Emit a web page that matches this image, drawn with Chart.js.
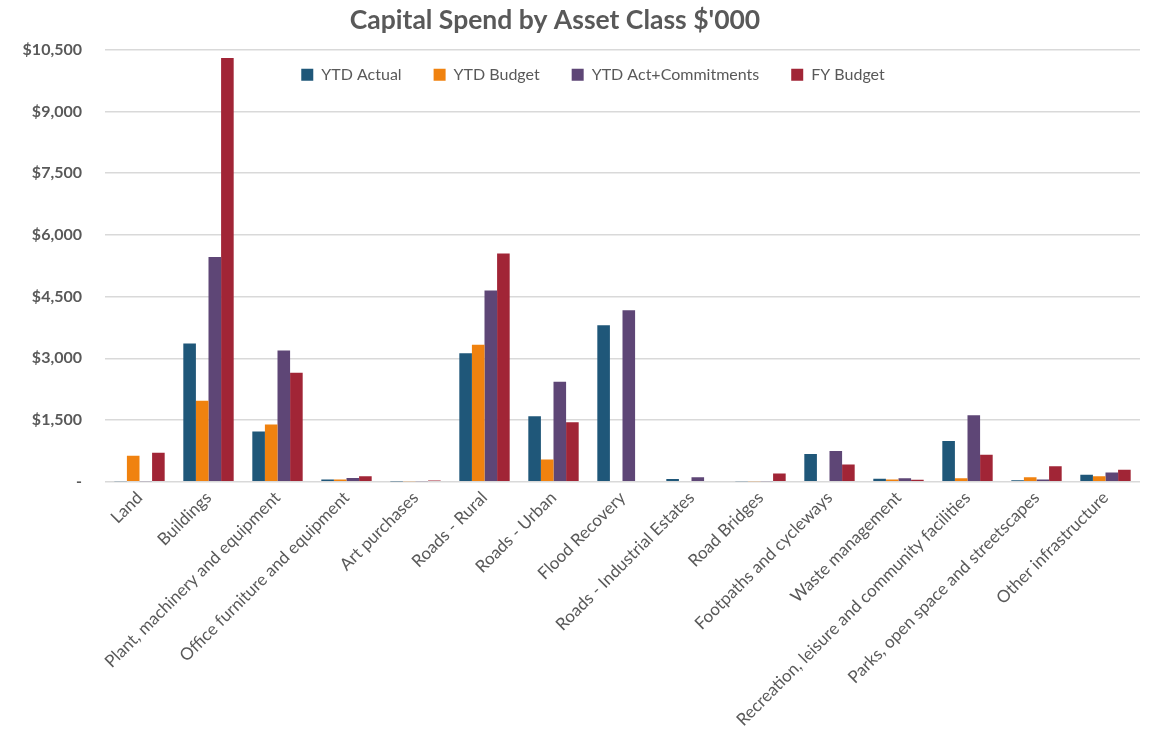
<!DOCTYPE html>
<html>
<head>
<meta charset="utf-8">
<script src="https://cdn.jsdelivr.net/npm/chart.js@4.4.1/dist/chart.umd.min.js"></script>
<style>
  html, body { margin: 0; padding: 0; background: #ffffff; }
  #wrap { width: 1153px; height: 738px; position: relative; }
</style>
</head>
<body>
<div id="wrap"><canvas id="c" width="1153" height="738"></canvas></div>
<script>
const categories = [
  "Land", "Buildings", "Plant, machinery and equipment", "Office furniture and equipment",
  "Art purchases", "Roads - Rural", "Roads - Urban", "Flood Recovery",
  "Roads - Industrial Estates", "Road Bridges", "Footpaths and cycleways",
  "Waste management", "Recreation, leisure and community facilities",
  "Parks, open space and streetscapes", "Other infrastructure"
];
const ytdActual      = [10, 3360, 1220, 55, 5, 3120, 1590, 3800, 65, 10, 670, 70, 990, 35, 170];
const ytdBudget      = [630, 1970, 1390, 50, 10, 3330, 540, 0, 0, 10, 15, 50, 80, 105, 130];
const ytdActCommit   = [10, 5460, 3190, 90, 10, 4650, 2430, 4170, 110, 10, 745, 80, 1615, 50, 220];
const fyBudget       = [700, 10300, 2650, 130, 30, 5550, 1445, 0, 0, 200, 420, 45, 657, 373, 292];
const yTicks = [0, 1500, 3000, 4500, 6000, 7500, 9000, 10500];

const seriesNames  = ["YTD Actual", "YTD Budget", "YTD Act+Commitments", "FY Budget"];
const seriesColors = ["#1f5779", "#f0820f", "#5e4676", "#a12536"];
const seriesData   = [ytdActual, ytdBudget, ytdActCommit, fyBudget];

const fontFamily = "Lato, 'Open Sans', sans-serif";

// Horizontal/vertical nudges for the title and the in-plot legend.
const titleShiftX = -26;
const legendShiftX = 12;
const legendShiftY = -15;

// Draws a layout box offset from where the layout put it.
function shiftDraw(box, dx, dy, keepHeight) {
  const draw = box.draw;
  box.draw = function (area) {
    const saved = [this.left, this.right, this.top, this.bottom];
    this.left += dx;
    this.right += dx;
    this.top += dy;
    this.bottom = keepHeight ? this.top + this._drawH : this.bottom + dy;
    draw.call(this, area);
    [this.left, this.right, this.top, this.bottom] = saved;
  };
}

// The legend sits inside the plot, just under the top gridline:
// it reserves no layout height and is drawn shifted into the chart area.
const boxPlacement = {
  id: "boxPlacement",
  afterInit(chart) {
    const lg = chart.legend;
    const fit = lg.fit;
    lg.fit = function () {
      fit.call(this);
      this._drawH = this.height;
      this.height = 0;
    };
    shiftDraw(lg, legendShiftX, legendShiftY, true);
    shiftDraw(chart.titleBlock, titleShiftX, 0, false);
  }
};

new Chart(document.getElementById("c"), {
  type: "bar",
  data: {
    labels: categories,
    datasets: seriesNames.map((name, i) => ({
      label: name,
      data: seriesData[i],
      backgroundColor: seriesColors[i],
      borderWidth: 0,
      categoryPercentage: 0.73,
      barPercentage: 1.0
    }))
  },
  plugins: [boxPlacement],
  options: {
    responsive: false,
    animation: false,
    layout: { padding: { left: 22, right: 13, top: 0, bottom: 2 } },
    plugins: {
      title: {
        display: true,
        text: "Capital Spend by Asset Class $'000",
        color: "#595959",
        font: { family: fontFamily, size: 26.5, weight: "bold" },
        padding: { top: 5, bottom: 13 }
      },
      legend: {
        position: "top",
        align: "center",
        labels: {
          color: "#595959",
          font: { family: fontFamily, size: 16 },
          boxWidth: 12,
          boxHeight: 12,
          padding: 32
        }
      },
      tooltip: { enabled: false }
    },
    scales: {
      x: {
        grid: { display: false, drawTicks: false },
        border: { display: false },
        ticks: {
          color: "#595959",
          font: { family: fontFamily, size: 17 },
          maxRotation: 45,
          minRotation: 45,
          autoSkip: false,
          padding: 6
        }
      },
      y: {
        min: 0,
        max: 10500,
        afterBuildTicks: (axis) => { axis.ticks = yTicks.map(v => ({ value: v })); },
        afterFit: (axis) => { axis.width = 83; },
        grid: { color: "#d9d9d9", lineWidth: 1.5, drawTicks: false },
        border: { display: false },
        ticks: {
          color: "#595959",
          font: { family: fontFamily, size: 16, weight: "bold" },
          padding: 23,
          callback: (v) => v === 0 ? "-" : "$" + v.toLocaleString("en-US")
        }
      }
    }
  }
});
</script>
</body>
</html>
